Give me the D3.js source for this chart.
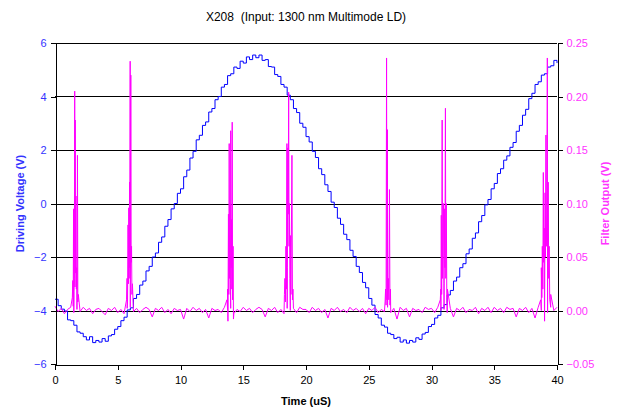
<!DOCTYPE html>
<html>
<head>
<meta charset="utf-8">
<script src="https://cdn.jsdelivr.net/npm/d3@7.9.0/dist/d3.min.js"></script>
<style>
  body { margin: 0; background: #fff; }
  svg { font-family: "Liberation Sans", Arial, sans-serif; }
  .axis path, .axis line { stroke: #000; shape-rendering: crispEdges; }
</style>
</head>
<body>
<svg id="chart" width="619" height="412"></svg>
<script>
// Driving voltage (V), sampled every 0.25 uS from 0 to 40
const voltT0 = 0, voltStep = 0.25;
const voltage = [
  -3.58, -3.82, -3.95, -4.02, -4.35, -4.38, -4.55, -4.80, -4.85, -4.98,
  -5.10, -4.98, -5.20, -5.12, -5.18, -5.05, -5.15, -4.95, -4.90, -4.70,
  -4.60, -4.38, -4.25, -3.98, -3.90, -3.55, -3.40, -3.05, -2.90, -2.52,
  -2.35, -2.00, -1.85, -1.45, -1.25, -0.85, -0.60, -0.20, 0.00, 0.38,
  0.55, 1.00, 1.25, 1.70, 1.95, 2.38, 2.55, 2.92, 3.05, 3.42,
  3.55, 3.88, 4.00, 4.35, 4.45, 4.78, 4.85, 5.10, 5.05, 5.32,
  5.25, 5.48, 5.38, 5.55, 5.45, 5.55, 5.35, 5.38, 5.12, 5.10,
  4.82, 4.75, 4.45, 4.35, 4.05, 3.88, 3.55, 3.40, 3.00, 2.85,
  2.50, 2.30, 1.95, 1.72, 1.30, 1.08, 0.70, 0.45, 0.05, -0.15,
  -0.55, -0.78, -1.15, -1.35, -1.75, -1.98, -2.35, -2.58, -2.95, -3.15,
  -3.55, -3.80, -4.15, -4.28, -4.55, -4.62, -4.85, -4.90, -5.05, -5.00,
  -5.18, -5.10, -5.22, -5.12, -5.18, -5.02, -5.08, -4.88, -4.82, -4.60,
  -4.52, -4.28, -4.18, -3.90, -3.78, -3.42, -3.25, -2.90, -2.75, -2.40,
  -2.25, -1.88, -1.70, -1.30, -1.10, -0.68, -0.45, -0.05, 0.15, 0.55,
  0.75, 1.12, 1.30, 1.62, 1.78, 2.10, 2.28, 2.70, 2.92, 3.30,
  3.52, 3.92, 4.12, 4.45, 4.55, 4.80, 4.85, 5.10, 5.15, 5.35,
  5.25
];

// Filter output baseline (V), every 0.25 uS
const filterStep = 0.25;
const filterBase = [
  0.004, -0.001, 0.002, -0.003, 0.001, 0.003, -0.002, 0.001, -0.001, 0.003,
  0.000, 0.002, -0.003, 0.001, 0.002, -0.001, -0.004, 0.002, 0.000, 0.003,
  -0.002, 0.001, -0.003, 0.002, 0.003, -0.001, 0.002, -0.002, 0.001, 0.003,
  0.001, -0.006, 0.002, 0.000, 0.003, -0.002, 0.001, -0.003, 0.002, 0.000,
  0.001, -0.008, 0.002, -0.001, 0.003, 0.000, 0.002, -0.002, 0.001, -0.007,
  0.002, 0.000, 0.001, -0.002, 0.003, 0.001, 0.002, -0.003, 0.001, -0.001,
  0.003, 0.000, 0.002, -0.002, 0.001, 0.003, 0.001, -0.006, 0.002, 0.000,
  0.003, -0.002, 0.001, -0.003, 0.002, 0.000, 0.002, -0.002, 0.003, 0.001,
  0.001, -0.002, 0.003, 0.000, 0.002, -0.002, 0.001, -0.007, 0.002, 0.000,
  0.003, -0.001, 0.001, -0.002, 0.003, 0.000, 0.002, -0.001, 0.002, -0.003,
  0.002, 0.000, 0.003, -0.002, 0.001, -0.001, 0.003, -0.002, 0.002, -0.008,
  0.003, 0.000, 0.002, -0.006, 0.002, 0.000, 0.001, -0.002, 0.003, 0.001,
  0.002, -0.002, 0.003, 0.000, 0.001, -0.002, 0.002, -0.006, 0.002, 0.000,
  0.003, -0.002, 0.001, 0.000, 0.003, -0.003, 0.002, 0.000, 0.003, -0.002,
  0.003, 0.000, 0.002, -0.002, 0.003, 0.001, 0.002, -0.006, 0.002, 0.000,
  0.003, -0.002, 0.002, -0.007, 0.003, 0.000, 0.002, -0.002, 0.003, 0.000,
  0.003
];

// Filter output bursts: [time uS, volts]
const burst1 = [[1.38,0.012],[1.42,0.028],[1.45,0.004],[1.48,0.095],[1.51,0.018],[1.54,0.030],[1.57,0.205],[1.59,0.022],[1.61,0.178],[1.64,0.035],[1.67,0.107],[1.70,0.020],[1.73,0.040],[1.76,0.012],[1.79,0.145],[1.82,0.008],[1.86,0.015]];
const burst2 = [[5.70,0.010],[5.74,0.030],[5.78,0.008],[5.82,0.080],[5.85,0.025],[5.88,0.096],[5.91,0.030],[5.94,0.120],[5.96,0.040],[5.99,0.233],[6.01,0.035],[6.04,0.220],[6.07,0.045],[6.10,0.060],[6.13,0.015],[6.17,0.025]];
const burst3 = [[13.70,0.010],[13.75,0.020],[13.78,-0.010],[13.82,0.090],[13.85,0.015],[13.88,0.156],[13.91,0.030],[13.94,0.100],[13.97,0.025],[14.00,0.168],[14.03,0.040],[14.06,0.085],[14.09,0.020],[14.12,0.176],[14.15,0.010],[14.19,0.060],[14.22,-0.008]];
const burst4 = [[18.28,0.015],[18.32,0.030],[18.36,0.008],[18.40,0.060],[18.44,0.020],[18.48,0.156],[18.51,0.040],[18.55,0.152],[18.58,0.090],[18.62,0.204],[18.65,0.060],[18.68,0.100],[18.72,0.030],[18.76,0.070],[18.80,0.015],[18.88,0.145],[18.92,0.010],[18.96,0.020]];
const burst5 = [[26.30,0.008],[26.34,0.020],[26.38,0.005],[26.42,0.236],[26.45,0.010],[26.49,0.169],[26.52,0.025],[26.56,0.030],[26.60,0.010],[26.65,0.113],[26.69,0.005],[26.73,0.020]];
const burst6 = [[30.70,0.010],[30.74,0.020],[30.78,0.089],[30.81,0.015],[30.85,0.178],[30.88,0.030],[30.92,0.060],[30.96,0.100],[30.99,0.025],[31.03,0.095],[31.07,0.040],[31.11,0.189],[31.14,0.030],[31.18,0.100],[31.22,0.012],[31.27,0.020]];
const burst7 = [[38.70,0.010],[38.75,0.040],[38.79,0.012],[38.83,0.060],[38.87,0.020],[38.91,0.129],[38.94,0.045],[38.98,0.077],[39.01,-0.010],[39.05,0.110],[39.08,0.050],[39.12,0.164],[39.15,0.060],[39.19,0.090],[39.23,0.236],[39.26,0.050],[39.30,0.120],[39.34,0.030],[39.38,0.060],[39.42,0.010],[39.50,0.015]];

const xTicks = [0, 5, 10, 15, 20, 25, 30, 35, 40];
const leftTicks = [-6, -4, -2, 0, 2, 4, 6];
const rightTicks = [-0.05, 0, 0.05, 0.10, 0.15, 0.20, 0.25];

const svg = d3.select('#chart');
const m = { left: 55, right: 557, top: 43, bottom: 364 };

const x = d3.scaleLinear().domain([0, 40]).range([m.left, m.right]);
const yL = d3.scaleLinear().domain([-6, 6]).range([m.bottom, m.top]);
const yR = d3.scaleLinear().domain([-0.05, 0.25]).range([m.bottom, m.top]);

// gridlines
svg.append('g')
  .selectAll('line')
  .data(leftTicks.filter(d => d > -6))
  .join('line')
  .attr('x1', m.left).attr('x2', m.right)
  .attr('y1', d => Math.round(yL(d)) + 0.5).attr('y2', d => Math.round(yL(d)) + 0.5)
  .attr('stroke', '#000').attr('stroke-width', 1);

// series data
const voltData = voltage.map((v, i) => [voltT0 + i * voltStep, v]);
const filterData = filterBase.map((v, i) => [i * filterStep, v])
  .concat(burst1, burst2, burst3, burst4, burst5, burst6, burst7)
  .sort((a, b) => a[0] - b[0]);

const voltLine = d3.line().x(d => x(d[0])).y(d => yL(d[1])).curve(d3.curveStepAfter);
const filterLine = d3.line().x(d => x(d[0])).y(d => yR(d[1]));

svg.append('path')
  .datum(voltData)
  .attr('fill', 'none')
  .attr('stroke', '#0000ff')
  .attr('stroke-width', 1)
  .attr('d', voltLine);

svg.append('path')
  .datum(filterData)
  .attr('fill', 'none')
  .attr('stroke', '#ff00ff')
  .attr('stroke-width', 1)
  .attr('d', filterLine);

// axes
const gx = svg.append('g').attr('class', 'axis')
  .attr('transform', `translate(0,${m.bottom + 0.5})`)
  .call(d3.axisBottom(x).tickValues(xTicks).tickSizeOuter(0).tickSize(5).tickPadding(7));
gx.selectAll('text').attr('fill', '#000').style('font-size', '11px');

const gl = svg.append('g').attr('class', 'axis')
  .attr('transform', `translate(${m.left + 0.5},0)`)
  .call(d3.axisLeft(yL).tickValues(leftTicks).tickSizeOuter(0).tickSize(5).tickPadding(4));
gl.selectAll('text').attr('fill', '#3333ff').style('font-size', '11px');

const gr = svg.append('g').attr('class', 'axis')
  .attr('transform', `translate(${m.right + 0.5},0)`)
  .call(d3.axisRight(yR).tickValues(rightTicks).tickSizeOuter(0).tickSize(5).tickPadding(4)
    .tickFormat(d3.format('.2f')));
gr.selectAll('text').attr('fill', '#ff33ff').style('font-size', '11px');

// titles
svg.append('text')
  .attr('x', 306).attr('y', 21)
  .attr('text-anchor', 'middle')
  .style('font-size', '12px')
  .style('white-space', 'pre')
  .text('X208  (Input: 1300 nm Multimode LD)');

svg.append('text')
  .attr('x', 306).attr('y', 405)
  .attr('text-anchor', 'middle')
  .style('font-size', '11px').style('font-weight', 'bold')
  .text('Time (uS)');

svg.append('text')
  .attr('transform', `translate(24,${(m.top + m.bottom) / 2}) rotate(-90)`)
  .attr('text-anchor', 'middle')
  .attr('fill', '#3333ff')
  .style('font-size', '11px').style('font-weight', 'bold')
  .text('Driving Voltage (V)');

svg.append('text')
  .attr('transform', `translate(609,${(m.top + m.bottom) / 2}) rotate(-90)`)
  .attr('text-anchor', 'middle')
  .attr('fill', '#ff33ff')
  .style('font-size', '11px').style('font-weight', 'bold')
  .text('Filter Output (V)');
</script>
</body>
</html>
